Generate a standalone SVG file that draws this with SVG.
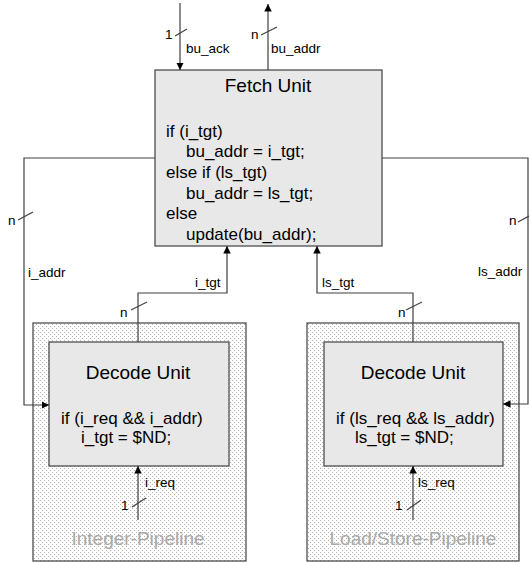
<svg xmlns="http://www.w3.org/2000/svg" width="529" height="563" viewBox="0 0 529 563">
<style>
text{font-family:"Liberation Sans",Arial,sans-serif;fill:#000}
.title{font-size:19px;text-anchor:middle}
.code{font-size:17px}
.lbl{font-size:13.5px}
.pipe{font-size:19px;text-anchor:middle;fill:#a8a8a8}
.box{fill:#e8e8e8;stroke:#404040;stroke-width:1.2}
.outer{fill:url(#dots);stroke:#404040;stroke-width:1.2}
.wire{fill:none;stroke:#404040;stroke-width:1.2}
.slash{stroke:#404040;stroke-width:1.2}
</style>
<defs>
<pattern id="dots" width="4" height="4" patternUnits="userSpaceOnUse">
<rect width="4" height="4" fill="#fff"/>
<rect x="0" y="0" width="1" height="1" fill="#b4b4b4"/>
<rect x="2" y="2" width="1" height="1" fill="#b4b4b4"/>
</pattern>
<marker id="arr" viewBox="0 0 10 10" refX="10" refY="5" markerWidth="7.5" markerHeight="7.5" markerUnits="userSpaceOnUse" orient="auto">
<path d="M0,0 L10,5 L0,10 z" fill="#000"/>
</marker>
</defs>
<rect width="529" height="563" fill="#fff"/>

<g id="int-pipeline">
<rect class="outer" x="33" y="323" width="213" height="238"/>
<text class="pipe" x="138" y="545">Integer-Pipeline</text>
</g>
<g id="ls-pipeline">
<rect class="outer" x="307" y="323" width="212" height="238"/>
<text class="pipe" x="413" y="545">Load/Store-Pipeline</text>
</g>

<g id="fetch">
<rect class="box" x="155" y="70" width="227" height="176"/>
<text class="title" x="268" y="92">Fetch Unit</text>
<text class="code" x="166" y="137">if (i_tgt)</text>
<text class="code" x="186" y="157">bu_addr = i_tgt;</text>
<text class="code" x="166" y="178">else if (ls_tgt)</text>
<text class="code" x="186" y="199">bu_addr = ls_tgt;</text>
<text class="code" x="166" y="219">else</text>
<text class="code" x="186" y="240">update(bu_addr);</text>
</g>

<g id="decode-int">
<rect class="box" x="49" y="342" width="180" height="124"/>
<text class="title" x="138" y="379">Decode Unit</text>
<text class="code" x="61" y="424">if (i_req &amp;&amp; i_addr)</text>
<text class="code" x="81" y="443">i_tgt = $ND;</text>
</g>

<g id="decode-ls">
<rect class="box" x="324" y="342" width="179" height="124"/>
<text class="title" x="413" y="379">Decode Unit</text>
<text class="code" x="336" y="424">if (ls_req &amp;&amp; ls_addr)</text>
<text class="code" x="355" y="443">ls_tgt = $ND;</text>
</g>

<g id="connectors">
<line class="wire" x1="180" y1="3" x2="180" y2="70" marker-end="url(#arr)"/>
<line class="slash" x1="175" y1="36" x2="187" y2="29"/>
<text class="lbl" x="165" y="39">1</text>
<text class="lbl" x="186" y="53">bu_ack</text>
<line class="wire" x1="268" y1="70" x2="268" y2="4" marker-end="url(#arr)"/>
<line class="slash" x1="261" y1="35" x2="277" y2="27"/>
<text class="lbl" x="251" y="39">n</text>
<text class="lbl" x="271" y="53">bu_addr</text>
<polyline class="wire" points="155,158 24,158 24,405 49,405" marker-end="url(#arr)"/>
<line class="slash" x1="18" y1="220" x2="33" y2="212"/>
<text class="lbl" x="8" y="225">n</text>
<text class="lbl" x="28" y="277">i_addr</text>
<polyline class="wire" points="382,158 528,158 528,404 503,404" marker-end="url(#arr)"/>
<line class="slash" x1="518" y1="222" x2="529" y2="216"/>
<text class="lbl" x="509" y="225">n</text>
<text class="lbl" x="478" y="276">ls_addr</text>
<polyline class="wire" points="138,342 138,293 227,293 227,246" marker-end="url(#arr)"/>
<line class="slash" x1="131" y1="310" x2="147" y2="302"/>
<text class="lbl" x="120" y="317">n</text>
<text class="lbl" x="195" y="287">i_tgt</text>
<polyline class="wire" points="413,342 413,293 317,293 317,246" marker-end="url(#arr)"/>
<line class="slash" x1="406" y1="310" x2="422" y2="302"/>
<text class="lbl" x="398" y="317">n</text>
<text class="lbl" x="322" y="287">ls_tgt</text>
<line class="wire" x1="138" y1="520" x2="138" y2="466" marker-end="url(#arr)"/>
<line class="slash" x1="132" y1="507" x2="146" y2="498"/>
<text class="lbl" x="121" y="510">1</text>
<text class="lbl" x="145" y="487">i_req</text>
<line class="wire" x1="413" y1="520" x2="413" y2="466" marker-end="url(#arr)"/>
<line class="slash" x1="407" y1="510" x2="421" y2="500"/>
<text class="lbl" x="395" y="510">1</text>
<text class="lbl" x="418" y="487">ls_req</text>
</g>
</svg>
